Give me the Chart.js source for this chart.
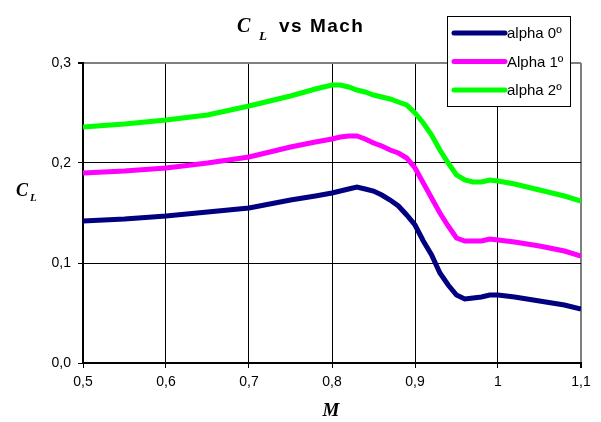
<!DOCTYPE html>
<html>
<head>
<meta charset="utf-8">
<script src="https://cdn.jsdelivr.net/npm/chart.js@4.4.1/dist/chart.umd.min.js"></script>
<style>
  html, body { margin: 0; padding: 0; background: #fff; }
  #wrap { width: 601px; height: 422px; }
</style>
</head>
<body>
<div id="wrap"><canvas id="cl" width="601" height="422"></canvas></div>
<script>
// Mach numbers sampled along the curves
const mach = [0.5, 0.55, 0.6, 0.65, 0.7, 0.75, 0.78, 0.8, 0.81, 0.82, 0.83, 0.84, 0.85, 0.86, 0.87, 0.88, 0.89,
  0.9, 0.91, 0.92, 0.93, 0.94, 0.95, 0.96, 0.97, 0.98, 0.99, 1.0, 1.02, 1.05, 1.08, 1.1];

const alpha0 = [0.142, 0.144, 0.147, 0.151, 0.155, 0.163, 0.167, 0.170, 0.172, 0.174, 0.176, 0.174, 0.172, 0.168, 0.163, 0.157, 0.148,
  0.138, 0.122, 0.108, 0.090, 0.078, 0.068, 0.064, 0.065, 0.066, 0.068, 0.068, 0.066, 0.062, 0.058, 0.054];
const alpha1 = [0.190, 0.192, 0.195, 0.200, 0.206, 0.216, 0.221, 0.224, 0.226, 0.227, 0.227, 0.224, 0.220, 0.217, 0.213, 0.210, 0.205,
  0.195, 0.180, 0.165, 0.150, 0.137, 0.125, 0.122, 0.122, 0.122, 0.124, 0.123, 0.121, 0.117, 0.112, 0.107];
const alpha2 = [0.236, 0.239, 0.243, 0.248, 0.257, 0.267, 0.274, 0.278, 0.278, 0.276, 0.273, 0.271, 0.268, 0.266, 0.264, 0.261, 0.258,
  0.250, 0.240, 0.228, 0.213, 0.200, 0.188, 0.183, 0.181, 0.181, 0.183, 0.182, 0.179, 0.173, 0.167, 0.162];

const seriesLabels = ['alpha 0º', 'Alpha 1º', 'alpha 2º'];
const seriesColors = ['#000080', '#ff00ff', '#00ff00'];

const xTicks = [0.5, 0.6, 0.7, 0.8, 0.9, 1.0, 1.1];
const yTicks = [0, 0.1, 0.2, 0.3];

const toPoints = arr => arr.map((v, i) => ({ x: mach[i], y: v }));
const comma = s => String(s).replace('.', ',');

// titles and legend box, drawn by hand to get the mixed fonts
const decorations = {
  id: 'decorations',
  afterDraw(chart) {
    const ctx = chart.ctx;
    ctx.save();
    ctx.fillStyle = '#000';
    ctx.textBaseline = 'alphabetic';
    ctx.textAlign = 'left';

    // title: C_L vs Mach
    ctx.font = 'italic bold 20px "Liberation Serif"';
    ctx.fillText('C', 237, 32);
    ctx.font = 'italic bold 13px "Liberation Serif"';
    ctx.fillText('L', 259, 40);
    ctx.font = 'bold 19px "Liberation Sans"';
    ctx.letterSpacing = '1.5px';
    ctx.fillText('vs Mach', 279, 32);
    ctx.letterSpacing = '0px';

    // y title
    ctx.font = 'italic bold 18px "Liberation Serif"';
    ctx.fillText('C', 16, 196);
    ctx.font = 'italic bold 11px "Liberation Serif"';
    ctx.fillText('L', 30, 201);

    // x title
    ctx.font = 'italic bold 19px "Liberation Serif"';
    ctx.textAlign = 'center';
    ctx.fillText('M', 331, 416);

    // legend
    const bx = 447, by = 16, bw = 123, bh = 90;
    ctx.fillStyle = '#fff';
    ctx.fillRect(bx, by, bw, bh);
    ctx.strokeStyle = '#000';
    ctx.lineWidth = 1;
    ctx.strokeRect(bx + 0.5, by + 0.5, bw, bh);
    ctx.font = '15px "Liberation Sans"';
    ctx.textAlign = 'left';
    ctx.textBaseline = 'middle';
    chart.data.datasets.forEach((ds, i) => {
      const ly = by + 17 + i * 28.5;
      ctx.strokeStyle = ds.borderColor;
      ctx.lineWidth = 5;
      ctx.lineCap = 'round';
      ctx.beginPath();
      ctx.moveTo(bx + 7, ly);
      ctx.lineTo(bx + 58, ly);
      ctx.stroke();
      ctx.fillStyle = '#000';
      ctx.fillText(ds.label, bx + 60, ly + 1);
    });
    ctx.restore();
  }
};

new Chart(document.getElementById('cl'), {
  type: 'line',
  data: {
    datasets: [alpha0, alpha1, alpha2].map((arr, i) => ({
      label: seriesLabels[i],
      data: toPoints(arr),
      borderColor: seriesColors[i],
      backgroundColor: seriesColors[i],
      borderWidth: 5,
      pointRadius: 0,
      tension: 0,
      fill: false
    }))
  },
  options: {
    responsive: false,
    animation: false,
    layout: { padding: { left: 0, top: 63, right: 20, bottom: 0 } },
    plugins: {
      legend: { display: false },
      title: { display: false },
      tooltip: { enabled: false }
    },
    scales: {
      x: {
        type: 'linear',
        min: 0.5,
        max: 1.1,
        afterBuildTicks: s => { s.ticks = xTicks.map(v => ({ value: v })); },
        afterFit: s => { s.height = 59; },
        border: { color: '#000', width: 2 },
        grid: {
          color: c => (c.tick && c.tick.value === 1.1 ? '#808080' : '#000'),
          lineWidth: c => (c.tick && c.tick.value === 1.1 ? 2 : 1),
          tickColor: '#000',
          tickLength: 5
        },
        ticks: {
          color: '#000',
          font: { family: 'Liberation Sans', size: 14 },
          padding: 6,
          maxRotation: 0,
          callback: v => comma(v)
        }
      },
      y: {
        min: 0,
        max: 0.3,
        afterBuildTicks: s => { s.ticks = yTicks.map(v => ({ value: v })); },
        afterFit: s => { s.width = 83; },
        border: { color: '#000', width: 2 },
        grid: {
          color: c => (c.tick && c.tick.value === 0.3 ? '#808080' : '#000'),
          lineWidth: c => (c.tick && c.tick.value === 0.3 ? 2 : 1),
          tickColor: '#000',
          tickLength: 5
        },
        ticks: {
          color: '#000',
          font: { family: 'Liberation Sans', size: 14 },
          padding: 7,
          callback: v => comma(v.toFixed(1))
        }
      }
    }
  },
  plugins: [decorations]
});
</script>
</body>
</html>
